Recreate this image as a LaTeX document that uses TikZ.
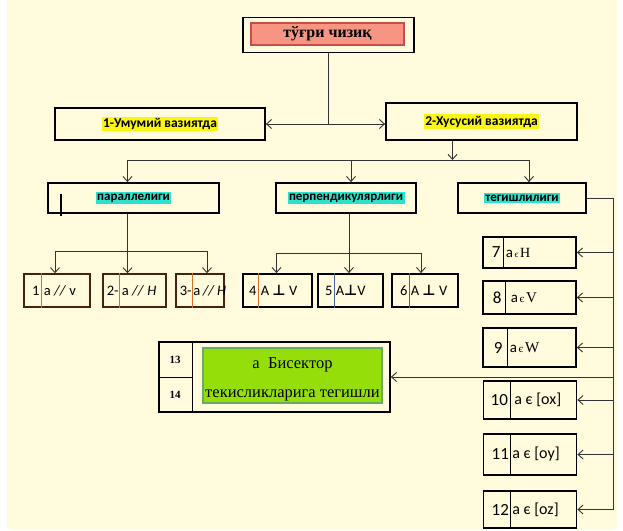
\documentclass[tikz,border=0pt]{standalone}
\usepackage{fontspec}
\setmainfont{Liberation Serif}
\newfontfamily\carl{Carlito}
\newfontfamily\djv{DejaVu Sans}
\usetikzlibrary{arrows.meta}
\definecolor{cream}{RGB}{255,251,220}
\definecolor{salmon}{RGB}{246,150,130}
\definecolor{hlyellow}{RGB}{250,245,20}
\definecolor{hlcyan}{RGB}{45,225,205}
\definecolor{lime}{RGB}{150,222,10}
\definecolor{leafbrown}{RGB}{70,35,15}
\definecolor{divorange}{RGB}{215,110,40}
\definecolor{divblue}{RGB}{70,100,160}
\newcommand\lf{\carl\fontsize{14.5}{16}\selectfont}
\newcommand\rf{\carl\fontsize{17}{19}\selectfont}
\newcommand\perpsym{{\djv\bfseries ⊥}}
\tikzset{
  box/.style={draw=black, line width=1.8pt, fill=cream, inner sep=0pt},
  leafbox/.style={draw=leafbrown, line width=1.5pt, fill=cream, inner sep=0pt, minimum height=33},
  rbox/.style={draw=black, line width=1.8pt, fill=cream, inner sep=0pt, minimum width=93},
  conn/.style={draw=black!80, line width=0.9pt},
  arr/.style={conn, -{Straight Barb[length=5pt,width=9pt]}},
  hly/.style={fill=hlyellow, inner sep=1.5pt, font=\carl\bfseries\fontsize{13.5}{15}\selectfont},
  hlc/.style={fill=hlcyan, inner sep=1.5pt, font=\carl\bfseries\fontsize{13}{15}\selectfont},
  num/.style={anchor=east, inner sep=0.5pt},
  frm/.style={anchor=west, inner sep=0.5pt},
}
\begin{document}
\begin{tikzpicture}[x=1pt,y=-1pt]
\useasboundingbox (0,0) rectangle (623,530);
\fill[white] (0,0) rectangle (623,530);
\fill[cream] (7,0) rectangle (617,529);

% top
\node[box, minimum width=171, minimum height=35] (top) at (328.5,35) {};
\node[draw=red!70!black!70, fill=salmon, line width=1.2pt, minimum width=153, minimum height=22, inner sep=0pt,
  font=\bfseries\fontsize{16}{18}\selectfont] (topin) at (327.5,34) {тўғри чизиқ};

% level 1
\node[box, minimum width=210, minimum height=32] (b1) at (160,124) {};
\node[hly] (b1t) at (b1.center) {1-Умумий вазиятда};
\node[box, minimum width=191, minimum height=37] (b2) at (481.5,121.5) {};
\node[hly] (b2t) at (b2.center) {2-Хусусий вазиятда};

% level 2
\node[box, minimum width=171, minimum height=30] (par) at (133.5,198) {};
\node[hlc] (part) at (par.center) {параллелиги};
\node[box, minimum width=140, minimum height=30] (perp) at (346,198) {};
\node[hlc] (perpt) at (perp.center) {перпендикулярлиги};
\node[box, minimum width=128, minimum height=30] (teg) at (522,198) {};
\node[hlc] (tegt) at (teg.center) {тегишлилиги};
\draw[line width=1.3pt] (61,194) -- (61,216);

% leaves
\node[leafbox, minimum width=66] (l1) at (57,290.5) {};
\node[leafbox, minimum width=63] (l2) at (134.5,290.5) {};
\node[leafbox, minimum width=48] (l3) at (200,290.5) {};
\node[leafbox, draw=black, line width=1.8pt, minimum width=69] (l4) at (277.5,290.5) {};
\node[leafbox, draw=black, line width=1.8pt, minimum width=65] (l5) at (350.5,290.5) {};
\node[leafbox, draw=black, line width=1.8pt, minimum width=66] (l6) at (425,290.5) {};
\draw[divorange, line width=0.9pt] ([xshift=18]l1.north west) -- ([xshift=18]l1.south west);
\draw[divorange, line width=0.9pt] ([xshift=17]l2.north west) -- ([xshift=17]l2.south west);
\draw[divorange, line width=0.9pt] ([xshift=17]l3.north west) -- ([xshift=17]l3.south west);
\draw[divorange, line width=0.9pt] ([xshift=16]l4.north west) -- ([xshift=16]l4.south west);
\draw[divblue, line width=0.9pt] ([xshift=17]l5.north west) -- ([xshift=17]l5.south west);
\draw[divblue, line width=0.9pt] ([xshift=18]l6.north west) -- ([xshift=18]l6.south west);
\node[num, font=\lf] at ([xshift=17]l1.west) {1};
\node[frm, font=\lf] at ([xshift=20]l1.west) {a \textit{//} v};
\node[num, font=\lf] at ([xshift=17]l2.west) {2-};
\node[frm, font=\lf] at ([xshift=19]l2.west) {a \textit{//} \textit{H}};
\node[num, font=\lf] at ([xshift=17]l3.west) {3-};
\node[frm, font=\lf] at ([xshift=17.5]l3.west) {a\,\textit{//}\,\textit{H}};
\node[num, font=\lf] at ([xshift=15]l4.west) {4};
\node[frm, font=\lf] at ([xshift=18]l4.west) {A \perpsym{} V};
\node[num, font=\lf] at ([xshift=16]l5.west) {5};
\node[frm, font=\lf] at ([xshift=18]l5.west) {A\perpsym{}V};
\node[num, font=\lf] at ([xshift=17]l6.west) {6};
\node[frm, font=\lf] at ([xshift=19]l6.west) {A \perpsym{} V};

% right column
\node[rbox, minimum height=31] (r7) at (529.5,252.5) {};
\node[rbox, minimum height=33] (r8) at (529.5,297.5) {};
\node[rbox, minimum height=39] (r9) at (529.5,347.5) {};
\node[rbox, minimum height=38] (r10) at (530,400) {};
\node[rbox, minimum height=41] (r11) at (530,454.5) {};
\node[rbox, minimum height=37] (r12) at (530,509.5) {};
\foreach \n/\d in {r7/21,r8/23,r9/25,r10/28,r11/28,r12/28}{
  \draw[black, line width=0.7pt] ([xshift=\d]\n.north west) -- ([xshift=\d]\n.south west);
}
\node[num, font=\rf] at ([xshift=19]r7.west) {7};
\node[frm] at ([xshift=23]r7.west) {{\carl\fontsize{15}{17}\selectfont a}\,{\fontsize{9}{10}\selectfont є}\,{\fontsize{14}{16}\selectfont H}};
\node[num, font=\rf] at ([xshift=20]r8.west) {8};
\node[frm] at ([xshift=28]r8.west) {{\carl\fontsize{15}{17}\selectfont a}\,{\fontsize{11}{12}\selectfont є}\,{\fontsize{15}{17}\selectfont V}};
\node[num, font=\rf] at ([xshift=21]r9.west) {9};
\node[frm] at ([xshift=27]r9.west) {{\carl\fontsize{15}{17}\selectfont a}\,{\fontsize{11}{12}\selectfont є}\,{\fontsize{15}{17}\selectfont W}};
\node[num, font=\rf] at ([xshift=26]r10.west) {10};
\node[frm, font=\carl\fontsize{16}{18}\selectfont] at ([xshift=31]r10.west) {a є [ox]};
\node[num, font=\rf] at ([xshift=27]r11.west) {11};
\node[frm, font=\carl\fontsize{16}{18}\selectfont] at ([xshift=29]r11.west) {a є [oy]};
\node[num, font=\rf] at ([xshift=27]r12.west) {12};
\node[frm, font=\carl\fontsize{16}{18}\selectfont] at ([xshift=29]r12.west) {a є [oz]};

% box 13/14
\node[box, minimum width=231, minimum height=70] (b13) at (274.5,377) {};
\node[draw=green!45!black!60, fill=lime, line width=1.2pt, minimum width=179, minimum height=55, inner sep=0pt] (green) at (292.5,375.5) {};
\node[align=center, inner sep=0pt, font=\fontsize{16.5}{29}\selectfont] (greent) at (292.5,379) {а\ \ Бисектор\\текисликларига тегишли};
\draw[black, line width=1pt] ([xshift=34]b13.north west) -- ([xshift=34]b13.south west);
\draw[black, line width=1pt] (b13.west) -- ([xshift=34]b13.west);
\node[font=\bfseries\fontsize{11}{13}\selectfont] (n13) at ([xshift=17,yshift=17]b13.west) {13};
\node[font=\bfseries\fontsize{11}{13}\selectfont] (n14) at ([xshift=17,yshift=-18]b13.west) {14};

% connectors
\coordinate (j1) at (top.south |- b1.east);
\draw[conn] (top.south) -- (j1);
\draw[arr] (j1) -- (b1.east);
\draw[arr] (j1) -- (b2.west |- j1);

\coordinate (j2) at ([xshift=-29]b2.south);
\coordinate (h3) at (0,160);
\coordinate (p1) at ([xshift=-6]par.north);
\coordinate (p2) at ([xshift=5]perp.north);
\coordinate (p3) at ([xshift=7]teg.north);
\draw[arr] (j2) -- (j2 |- h3);
\draw[conn] (p1 |- h3) -- (p3 |- h3);
\draw[arr] (p1 |- h3) -- (p1);
\draw[arr] (p2 |- h3) -- (p2);
\draw[arr] (p3 |- h3) -- (p3);

\coordinate (pa) at ([xshift=-6]par.south);
\coordinate (h4) at (0,251);
\coordinate (q3) at ([xshift=7]l3.north);
\draw[arr] (pa) -- (pa |- l2.north);
\draw[conn] ([xshift=-2]l1.north |- h4) -- (q3 |- h4);
\draw[arr] ([xshift=-2]l1.north |- h4) -- ([xshift=-2]l1.north);
\draw[arr] (q3 |- h4) -- (q3);

\coordinate (pb) at ([xshift=3]perp.south);
\coordinate (h5) at (0,253);
\coordinate (q6) at ([xshift=-4]l6.north);
\draw[arr] (pb) -- (pb |- l5.north);
\draw[conn] ([xshift=-1]l4.north |- h5) -- (q6 |- h5);
\draw[arr] ([xshift=-1]l4.north |- h5) -- ([xshift=-1]l4.north);
\draw[arr] (q6 |- h5) -- (q6);

\coordinate (tr) at ([xshift=27]teg.east);
\draw[conn] (teg.east) -- (tr) -- (tr |- r12.east);
\foreach \n in {r7,r8,r9,r10,r11,r12,b13}{
  \draw[arr] (tr |- \n.east) -- (\n.east);
}
\end{tikzpicture}
\end{document}
